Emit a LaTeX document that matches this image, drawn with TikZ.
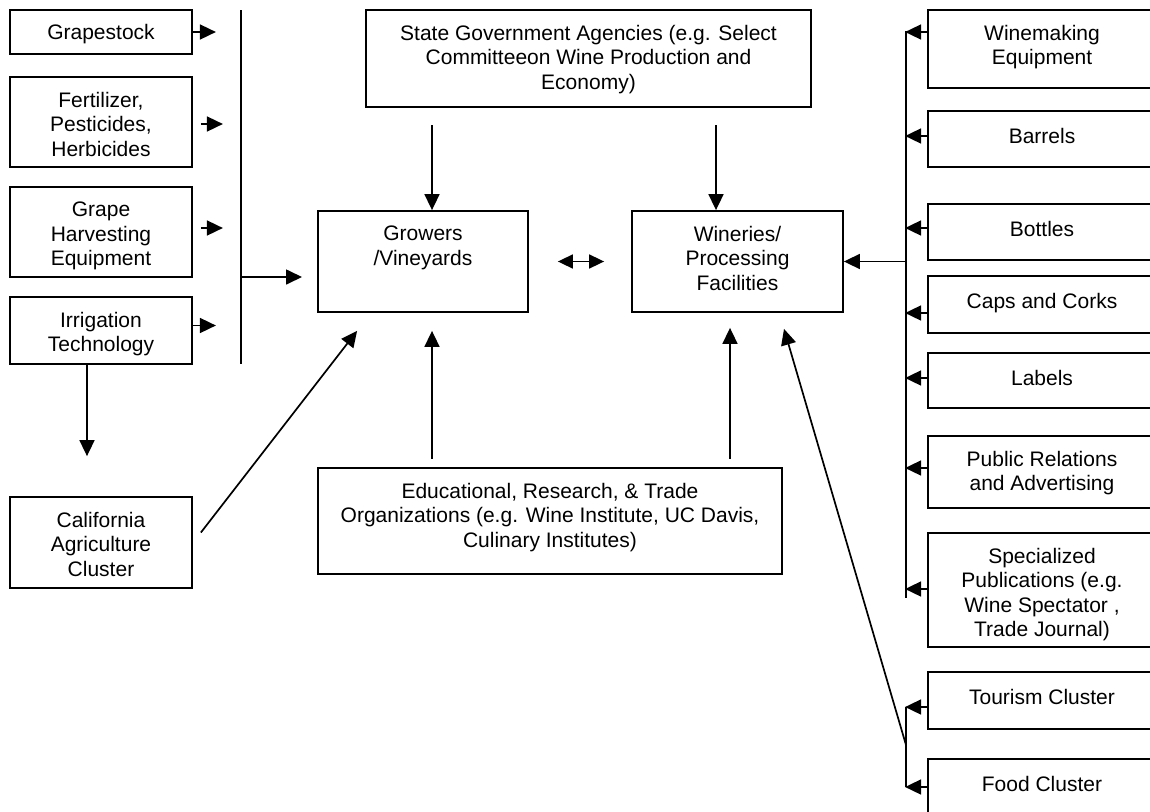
\documentclass[tikz,border=0pt]{standalone}
\usepackage{fontspec}
\setmainfont{Liberation Sans}
\usepackage{tikz}
\usetikzlibrary{arrows.meta,calc,positioning}
\tikzset{%
	box/.style     = {draw, rectangle, line width=1.8pt, inner sep=0pt, minimum width=182pt},
	sidebox/.style = {draw, rectangle, line width=1.8pt, inner sep=0pt, minimum width=228pt},
	boxtext/.style = {anchor=north, inner sep=0pt, align=center, yshift=-16pt, font=\fontsize{21}{24.4}\selectfont, execute at begin node=\strut},
	arrow/.style   = {line width=1.7pt, -{Triangle[length=16pt,width=15pt]}},
	biarrow/.style = {line width=1.7pt, {Triangle[length=15pt,width=14pt]}-{Triangle[length=15pt,width=14pt]}},
	bus/.style     = {line width=1.7pt},
}
\begin{document}
\begin{tikzpicture}[x=1pt,y=-1pt]
	\useasboundingbox (0,0) rectangle (1150,811);
	\clip (0,0) rectangle (1150,811);
	% suppliers on the left
	\node[box, minimum height=44pt] (stock) at (101,32) {};
	\node[boxtext, yshift=3pt] at (stock.north) {Grapestock};
	\node[box, minimum height=90pt] (fert) at (101,122) {};
	\node[boxtext] at (fert.north) {Fertilizer,\\Pesticides,\\Herbicides};
	\node[box, minimum height=90pt] (harv) at (101,232) {};
	\node[boxtext] at (harv.north) {Grape\\Harvesting\\Equipment};
	\node[box, minimum height=67pt] (irrig) at (101,330.5) {};
	\node[boxtext] at (irrig.north) {Irrigation\\Technology};
	\node[box, minimum height=91pt] (calag) at (101,542.5) {};
	\node[boxtext] at (calag.north) {California\\Agriculture\\Cluster};
	% centre
	\node[draw, rectangle, line width=1.8pt, minimum width=445pt, minimum height=97pt] (state) at (588.5,58.5) {};
	\node[boxtext] at (state.north) {State Government Agencies (e.g. Select\\Committeeon Wine Production and\\Economy)};
	\node[draw, rectangle, line width=1.8pt, minimum width=210pt, minimum height=101pt] (grow) at (423,261.5) {};
	\node[boxtext] at (grow.north) {Growers\\/Vineyards};
	\node[draw, rectangle, line width=1.8pt, minimum width=211pt, minimum height=101pt] (winery) at (737.5,261.5) {};
	\node[boxtext] at (winery.north) {Wineries/\\Processing\\Facilities};
	\node[draw, rectangle, line width=1.8pt, minimum width=464pt, minimum height=106pt] (edu) at (550,521) {};
	\node[boxtext] at (edu.north) {Educational, Research, \& Trade\\Organizations (e.g. Wine Institute, UC Davis,\\Culinary Institutes)};
	% suppliers on the right
	\node[sidebox, minimum height=78pt] (equip) at (1042,49) {};
	\node[boxtext] at (equip.north) {Winemaking\\Equipment};
	\node[sidebox, minimum height=56pt] (barrel) at (1042,139) {};
	\node[boxtext] at (barrel.north) {Barrels};
	\node[sidebox, minimum height=56pt] (bottle) at (1042,232) {};
	\node[boxtext] at (bottle.north) {Bottles};
	\node[sidebox, minimum height=57pt] (cork) at (1042,304.5) {};
	\node[boxtext] at (cork.north) {Caps and Corks};
	\node[sidebox, minimum height=55pt] (label) at (1042,380.5) {};
	\node[boxtext] at (label.north) {Labels};
	\node[sidebox, minimum height=72pt] (pr) at (1042,472) {};
	\node[boxtext] at (pr.north) {Public Relations\\and Advertising};
	\node[sidebox, minimum height=114pt] (press) at (1042,590) {};
	\node[boxtext] at (press.north) {Specialized\\Publications (e.g.\\Wine Spectator ,\\Trade Journal)};
	\node[sidebox, minimum height=57pt] (tour) at (1042,700.5) {};
	\node[boxtext] at (tour.north) {Tourism Cluster};
	\node[sidebox, minimum height=71pt] (food) at (1042,794.5) {};
	\node[boxtext] at (food.north) {Food Cluster};
	% bus lines
	\coordinate (lbustop) at (241,10);
	\coordinate (lbusbot) at (241,364);
	\coordinate (lbusout) at (241,277);
	\coordinate (lbusend) at (302,277);
	\coordinate (rbustop) at (906,31);
	\coordinate (rbusbot) at (906,598);
	\coordinate (rbusout) at (906,261.5);
	\coordinate (lowtop) at (906,707);
	\coordinate (lowbot) at (906,787);
	\coordinate (lowmid) at (906,745);
	\draw[bus] (lbustop) -- (lbusbot);
	\draw[bus] (rbustop) -- (rbusbot);
	\draw[bus] (lowtop) -- (lowbot);
	% left arrows
	\draw[arrow] (stock.east) -- ++(23,0);
	\draw[arrow] ([xshift=8pt,yshift=-2pt]fert.east) -- ++(22,0);
	\draw[arrow] ([xshift=8pt,yshift=4pt]harv.east) -- ++(22,0);
	\draw[arrow] ([yshift=5pt]irrig.east) -- ++(23,0);
	\draw[arrow] (lbusout) -- (lbusend);
	\draw[arrow] ([xshift=-14pt]irrig.south) -- ([xshift=-14pt,yshift=40pt]calag.north);
	\draw[arrow] ([xshift=8pt,yshift=10pt]calag.east) -- ([xshift=40pt,yshift=-18pt]grow.south west);
	% centre arrows
	\draw[arrow] ([xshift=9pt,yshift=85pt]grow.north) -- ([xshift=9pt]grow.north);
	\draw[arrow] ([xshift=-21.5pt,yshift=85pt]winery.north) -- ([xshift=-21.5pt]winery.north);
	\draw[biarrow] ([xshift=29pt]grow.east) -- ([xshift=-27pt]winery.west);
	\draw[arrow] ([xshift=9pt,yshift=-146pt]grow.south) -- ([xshift=9pt,yshift=-18pt]grow.south);
	\draw[arrow] ([xshift=-7.5pt,yshift=-146pt]winery.south) -- ([xshift=-7.5pt,yshift=-15pt]winery.south);
	\draw[arrow] (lowmid) -- ([xshift=46.5pt,yshift=-16pt]winery.south);
	% right arrows
	\draw[arrow] (rbusout) -- (winery.east);
	\draw[arrow] ([yshift=17pt]equip.west) -- ++(-22,0);
	\draw[arrow] ([yshift=3pt]barrel.west) -- ++(-22,0);
	\draw[arrow] ([yshift=4pt]bottle.west) -- ++(-22,0);
	\draw[arrow] ([yshift=-8.5pt]cork.west) -- ++(-22,0);
	\draw[arrow] ([yshift=2.5pt]label.west) -- ++(-22,0);
	\draw[arrow] ([yshift=4pt]pr.west) -- ++(-22,0);
	\draw[arrow] ([yshift=1pt]press.west) -- ++(-22,0);
	\draw[arrow] ([yshift=-6.5pt]tour.west) -- ++(-22,0);
	\draw[arrow] ([yshift=7.5pt]food.west) -- ++(-22,0);
\end{tikzpicture}
\end{document}
